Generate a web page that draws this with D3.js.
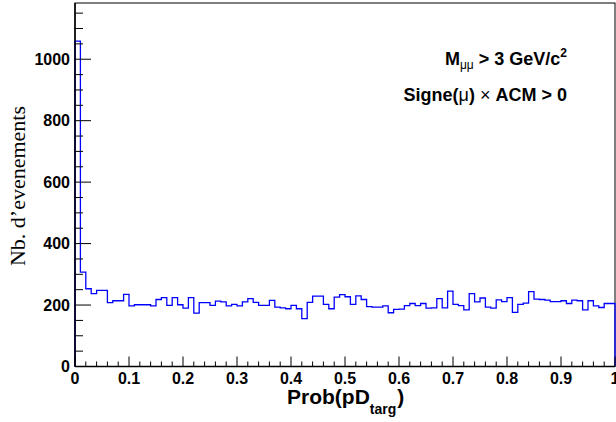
<!DOCTYPE html>
<html><head><meta charset="utf-8">
<script src="https://cdn.jsdelivr.net/npm/d3@7"></script>
<style>html,body{margin:0;padding:0;background:#fff;}svg{display:block;}</style>
</head><body>
<svg id="c" width="616" height="422"></svg>
<script>
// ---- data ----
const xMin = 0, xMax = 1, nBins = 100;
const counts = [1059,307,253,237,248,248,208,214,214,235,
197,201,201,201,197,218,224,199,224,201,
190,224,174,208,208,199,213,210,197,202,
197,210,221,209,199,199,215,193,191,188,
199,188,156,209,229,229,202,188,226,234,
227,202,230,218,195,193,193,197,175,186,
187,198,205,198,205,190,191,221,191,245,
202,198,184,237,210,223,193,190,217,211,
224,176,202,206,244,219,218,216,211,211,
214,205,216,214,184,214,197,192,205,205];
const xTickValues = [0,0.1,0.2,0.3,0.4,0.5,0.6,0.7,0.8,0.9,1];
const xTickLabels = ["0","0.1","0.2","0.3","0.4","0.5","0.6","0.7","0.8","0.9","1"];
const yTickValues = [0,200,400,600,800,1000];
const yTickLabels = ["0","200","400","600","800","1000"];
const yMax = 1183;

// ---- chart ----
const svg = d3.select("#c");
const L = 75, R = 615, T = 3, B = 366.5;
const x = d3.scaleLinear().domain([xMin, xMax]).range([L, R]);
const y = d3.scaleLinear().domain([0, yMax]).range([B, T]);
const bw = (xMax - xMin) / nBins;
const SANS = "Liberation Sans, Arial, sans-serif";

// frame
svg.append("rect").attr("x", L).attr("y", T).attr("width", R - L).attr("height", B - T)
  .attr("fill", "none").attr("stroke", "#000").attr("stroke-width", 1);

// histogram outline
const pts = [[xMin, 0]];
counts.forEach((c, i) => { pts.push([xMin + i * bw, c]); pts.push([xMin + (i + 1) * bw, c]); });
pts.push([xMax, 0]);
svg.append("path").attr("d", d3.line().x(d => x(d[0])).y(d => y(d[1]))(pts))
  .attr("fill", "none").attr("stroke", "#0000ff").attr("stroke-width", 1.3);

// x axis: ticks inward (upwards)
const xMinor = d3.range(0, 51).map(i => i * 0.02);
const gx = svg.append("g");
gx.selectAll("line.mn").data(xMinor).join("line")
  .attr("x1", d => x(d)).attr("x2", d => x(d))
  .attr("y1", B).attr("y2", d => (Math.abs(d * 10 - Math.round(d * 10)) < 1e-6 ? B - 10 : B - 5))
  .attr("stroke", "#000").attr("stroke-width", 1);
gx.append("line").attr("x1", L).attr("x2", R).attr("y1", B).attr("y2", B).attr("stroke", "#000").attr("stroke-width", 1.5);
gx.selectAll("text").data(xTickValues).join("text")
  .attr("x", d => x(d)).attr("y", 384)
  .attr("text-anchor", "middle")
  .attr("font-family", SANS).attr("font-weight", "bold").attr("font-size", 16)
  .text((d, i) => xTickLabels[i]);

// y axis: ticks inward (rightwards)
const yMinor = d3.range(0, 24).map(i => i * 50);
const gy = svg.append("g");
gy.selectAll("line").data(yMinor).join("line")
  .attr("x1", L).attr("x2", d => (d % 200 === 0 ? L + 16 : L + 8))
  .attr("y1", d => y(d)).attr("y2", d => y(d))
  .attr("stroke", "#000").attr("stroke-width", 1);
gy.append("line").attr("x1", L).attr("x2", L).attr("y1", T).attr("y2", B).attr("stroke", "#000").attr("stroke-width", 1.5);
gy.selectAll("text").data(yTickValues).join("text")
  .attr("x", 70).attr("y", d => y(d)).attr("dy", "0.36em")
  .attr("text-anchor", "end")
  .attr("font-family", SANS).attr("font-weight", "bold").attr("font-size", 16)
  .text((d, i) => yTickLabels[i]);

// axis titles
const xt = svg.append("text").attr("x", 287).attr("y", 404)
  .attr("font-family", SANS).attr("font-weight", "bold").attr("font-size", 21);
xt.append("tspan").text("Prob(pD");
xt.append("tspan").attr("font-size", 14).attr("dy", 10).text("targ");
xt.append("tspan").attr("dy", -10).attr("dx", 1).text(")");

svg.append("text").attr("transform", "translate(25,186) rotate(-90)")
  .attr("text-anchor", "middle")
  .attr("font-family", "Liberation Serif, Times New Roman, serif").attr("font-size", 22)
  .text("Nb. d\u2019evenements");

// annotation
const a1 = svg.append("text").attr("x", 567).attr("y", 65).attr("text-anchor", "end")
  .attr("font-family", SANS).attr("font-weight", "bold").attr("font-size", 18);
a1.append("tspan").text("M");
a1.append("tspan").attr("font-size", 12).attr("font-weight", "normal").attr("dy", 4).text("\u03bc\u03bc");
a1.append("tspan").attr("dy", -4).text(" > 3 GeV/c");
a1.append("tspan").attr("font-size", 12).attr("dy", -8).text("2");

const a2 = svg.append("text").attr("x", 567).attr("y", 101).attr("text-anchor", "end")
  .attr("font-family", SANS).attr("font-weight", "bold").attr("font-size", 18);
a2.append("tspan").text("Signe(");
a2.append("tspan").attr("font-weight", "normal").text("\u03bc");
a2.append("tspan").text(")");
a2.append("tspan").attr("font-weight", "normal").text(" \u00d7 ");
a2.append("tspan").text("ACM > 0");
</script>
</body></html>
